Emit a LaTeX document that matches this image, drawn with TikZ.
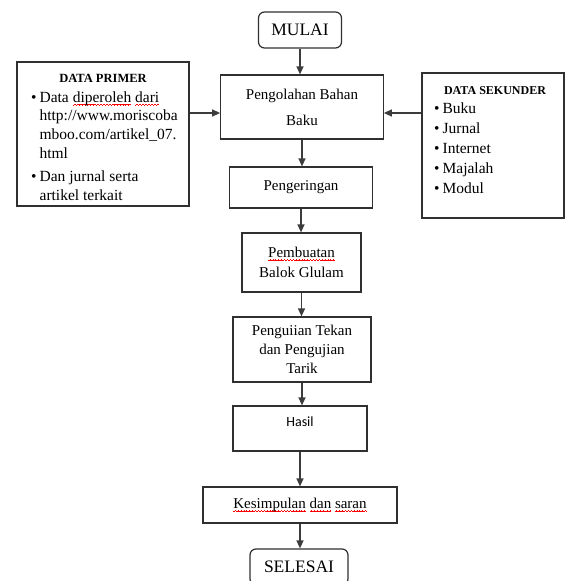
\documentclass[tikz,border=0pt]{standalone}
\usepackage{fontspec}
\setmainfont{Liberation Serif}
\newfontfamily\calibrifont{Carlito}
\usetikzlibrary{arrows.meta}
\definecolor{boxline}{HTML}{303030}
\definecolor{arrowline}{HTML}{3C3C3C}
% red spell-check wave under a word
\newsavebox\spellbox
\newcommand{\spellwave}[1]{\sbox\spellbox{#1}\rlap{\textcolor{red}{\hbox to\wd\spellbox{\xleaders\hbox{%
  \rule[-3.2pt]{0.7pt}{0.5pt}\rule[-2.7pt]{0.7pt}{0.5pt}\rule[-2.2pt]{0.7pt}{0.5pt}\rule[-2.7pt]{0.7pt}{0.5pt}}\hfil}}}%
  \usebox\spellbox}

\begin{document}
\begin{tikzpicture}[x=1pt,y=-1pt,
  box/.style={draw=boxline,line width=1.2pt,inner sep=0pt,align=center,
    font=\fontsize{15}{20}\selectfont},
  term/.style={box,rounded corners=6pt,font=\fontsize{17.5}{20}\selectfont},
  head/.style={anchor=base,inner sep=0pt,font=\bfseries\fontsize{12.5}{14}\selectfont},
  list/.style={anchor=base west,inner sep=0pt},
  flow/.style={draw=arrowline,line width=1.3pt,-{Triangle[length=8pt,width=7pt]}}]
  \useasboundingbox (0,0) rectangle (565,581);
  \clip (0,0) rectangle (565,581);
  % main column
  \node[term,minimum width=83,minimum height=36] (mulai) at (300,30) {MULAI};
  \node[box,minimum width=162.5,minimum height=64,font=\fontsize{15}{26}\selectfont]
    (olah) at (302,107) {Pengolahan Bahan\\Baku};
  \node[box,minimum width=143.5,minimum height=41] (kering) at (301,187.5) {Pengeringan};
  \node[box,minimum width=119,minimum height=59] (balok) at (301.5,262.5)
    {\spellwave{Pembuatan}\\Balok Glulam};
  \node[box,minimum width=138,minimum height=65,font=\fontsize{15}{19}\selectfont]
    (uji) at (302,349.5) {Penguiian Tekan\\dan Pengujian\\Tarik};
  \node[box,minimum width=134,minimum height=45,font=\calibrifont\fontsize{14}{16}\selectfont,
    text depth=13pt] (hasil) at (300,428.5) {Hasil};
  \node[box,minimum width=194,minimum height=36] (simpul) at (300,505)
    {\spellwave{Kesimpulan} \spellwave{dan} \spellwave{saran}};
  \node[term,minimum width=98,minimum height=36] (selesai) at (299,567) {SELESAI};
  % data primer
  \node[box,minimum width=172,minimum height=144] (primer) at (103,134) {};
  \node[head] (primerhead) at (103,82) {DATA PRIMER};
  \node[list,font=\fontsize{15.5}{18.7}\selectfont] (primerlist) at (31,102)
    {\begin{tabular}[t]{@{}l@{\hspace{3pt}}l@{}}
      \textbullet & Data \spellwave{diperoleh} \spellwave{dari}\\
       & http://www.moriscoba\\
       & mboo.com/artikel\_07.\\
       & html\\[5pt]
      \textbullet & Dan jurnal serta\\
       & artikel terkait
    \end{tabular}};
  % data sekunder
  \node[box,minimum width=142,minimum height=145] (sekunder) at (493,145.5) {};
  \node[head,font=\bfseries\fontsize{12}{14}\selectfont] (sekunderhead) at (495,94) {DATA SEKUNDER};
  \node[list,font=\fontsize{15.5}{20.2}\selectfont] (sekunderlist) at (434,113)
    {\begin{tabular}[t]{@{}l@{\hspace{3pt}}l@{}}
      \textbullet & Buku\\
      \textbullet & Jurnal\\
      \textbullet & Internet\\
      \textbullet & Majalah\\
      \textbullet & Modul
    \end{tabular}};
  % arrows
  \draw[flow] (mulai.south) -- (mulai.south |- olah.north);
  \draw[flow] (olah.south) -- (olah.south |- kering.north);
  \draw[flow] (kering.south) -- (kering.south |- balok.north);
  \draw[flow] (balok.south) -- (balok.south |- uji.north);
  \draw[flow] (uji.south) -- (uji.south |- hasil.north);
  \draw[flow] (hasil.south) -- (hasil.south |- simpul.north);
  \draw[flow] (simpul.south) -- (simpul.south |- selesai.north);
  \draw[flow] ([yshift=-6pt]olah.west -| primer.east) -- ([yshift=-6pt]olah.west);
  \draw[flow] ([yshift=-6pt]olah.east -| sekunder.west) -- ([yshift=-6pt]olah.east);
\end{tikzpicture}
\end{document}
